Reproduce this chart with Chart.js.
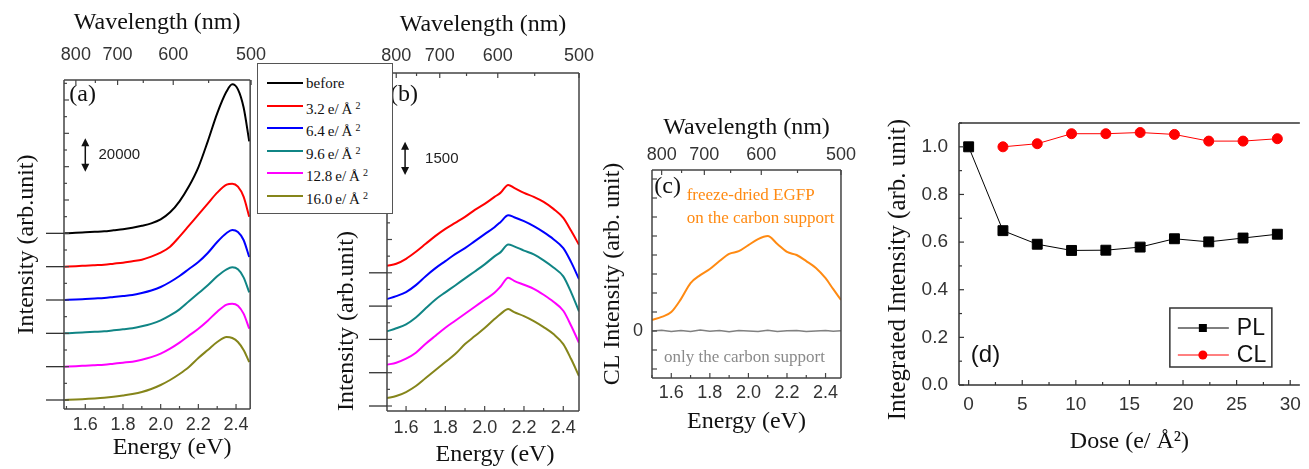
<!DOCTYPE html>
<html>
<head>
<meta charset="utf-8">
<script src="https://cdn.jsdelivr.net/npm/chart.js@4.4.1/dist/chart.umd.min.js"></script>
<style>
  body { margin: 0; background: #fff; width: 1309px; height: 469px; position: relative; overflow: hidden; }
  canvas { position: absolute; top: 0; }
  #legendA { position: absolute; left: 257px; top: 63px; width: 134px; height: 149px; border: 1.5px solid #555;
             background: #fff; font-family: 'Liberation Serif', serif; font-size: 15px; color: #111; }
  #legendA .row { position: absolute; left: 0; width: 134px; height: 22px; }
  #legendA .sw { position: absolute; left: 9px; top: 10px; width: 36px; height: 2px; }
  #legendA .lbl { position: absolute; left: 48px; top: 0; line-height: 22px; white-space: nowrap; }
  #legendA sup { font-size: 10px; vertical-align: 5px; margin-left: 3px; }
</style>
</head>
<body>
<canvas id="chartA" width="280" height="469" style="left:0px"></canvas>
<canvas id="chartB" width="290" height="469" style="left:320px"></canvas>
<canvas id="chartC" width="270" height="469" style="left:590px"></canvas>
<canvas id="chartD" width="459" height="469" style="left:850px"></canvas>
<div id="legendA"></div>
<script>
const SANS = "'Liberation Sans', Arial, sans-serif";
const SERIF = "'Liberation Serif', 'Times New Roman', serif";

// series names / colours shared by (a) and (b)
const seriesNames = ['before', '3.2', '6.4', '9.6', '12.8', '16.0'];
const seriesColors = ['#000000', '#ff0000', '#0000ff', '#108585', '#ff00ff', '#85851a'];

// tick labels
const energyLabels = [1.6, 1.8, 2.0, 2.2, 2.4];
const wavelengthTicks = [800, 750, 700, 650, 600, 550, 500];
const wavelengthLabels = [800, 700, 600, 500];

// (a) PL spectra, counts above each baseline
const energyA = [1.49, 1.55, 1.6, 1.65, 1.7, 1.75, 1.8, 1.85, 1.9, 1.95, 2.0, 2.05, 2.1, 2.15, 2.2, 2.25, 2.3, 2.35, 2.38, 2.41, 2.44, 2.47];
const plBefore = [0, 300, 600, 900, 1200, 1800, 2400, 3300, 4500, 6000, 8400, 12600, 19200, 28200, 39600, 55200, 72000, 85200, 89400, 86400, 75600, 55200];
const pl32 = [0, 300, 600, 900, 1200, 1800, 2400, 3300, 4200, 6000, 8400, 12000, 18000, 24600, 31200, 37800, 44400, 49200, 49800, 48000, 42000, 30000];
const pl64 = [0, 300, 600, 900, 1200, 1800, 2400, 3000, 4200, 5700, 7800, 10800, 14400, 18600, 22800, 28200, 34800, 40200, 42000, 40800, 36000, 25800];
const pl96 = [0, 300, 600, 900, 1200, 1800, 2400, 3000, 4200, 5700, 7800, 10800, 14400, 19200, 24000, 28800, 34200, 38400, 39600, 38400, 33600, 24600];
const pl128 = [0, 300, 600, 900, 1200, 1800, 2400, 3000, 4200, 5700, 7800, 10800, 14400, 18600, 22800, 27600, 33000, 37200, 37800, 36600, 31800, 22800];
const pl160 = [0, 300, 600, 900, 1300, 1900, 2700, 3600, 4800, 6600, 9000, 12000, 15600, 19800, 25200, 30000, 34800, 37800, 37200, 34800, 30000, 22800];
const offsetsA = [100000, 80000, 60000, 40000, 20000, 0];

// (b) CL spectra
const energyB = [1.503, 1.55, 1.6, 1.65, 1.7, 1.75, 1.8, 1.85, 1.9, 1.95, 2.0, 2.05, 2.08, 2.12, 2.15, 2.2, 2.25, 2.3, 2.35, 2.4, 2.44, 2.48];
const cl32 = [315, 405, 630, 945, 1305, 1665, 1980, 2250, 2520, 2835, 3105, 3420, 3600, 3960, 3825, 3600, 3420, 3195, 2880, 2475, 1890, 1260];
const cl64 = [315, 450, 630, 945, 1350, 1710, 2025, 2340, 2610, 2925, 3240, 3555, 3780, 4095, 4005, 3825, 3600, 3330, 3015, 2610, 1980, 1215];
const cl96 = [360, 500, 680, 990, 1400, 1800, 2120, 2430, 2750, 3060, 3380, 3740, 3920, 4280, 4190, 4000, 3830, 3560, 3240, 2840, 2120, 1260];
const cl128 = [360, 450, 630, 900, 1305, 1665, 2025, 2340, 2655, 2970, 3285, 3600, 3870, 4275, 4140, 3960, 3780, 3510, 3195, 2790, 2115, 1350];
const cl160 = [360, 450, 630, 900, 1260, 1620, 1980, 2340, 2790, 3150, 3510, 3915, 4140, 4365, 4230, 4050, 3825, 3555, 3240, 2790, 2115, 1350];
const offsetsB = [6000, 4500, 3000, 1500, 0];

// (c) freeze-dried EGFP vs bare carbon support
const energyC = [1.5, 1.55, 1.6, 1.65, 1.7, 1.75, 1.8, 1.85, 1.9, 1.95, 2.0, 2.05, 2.1, 2.15, 2.2, 2.25, 2.3, 2.35, 2.4, 2.44, 2.48];
const clEgfp = [290, 370, 500, 840, 1260, 1470, 1630, 1840, 2030, 2100, 2260, 2420, 2500, 2290, 2080, 2000, 1840, 1660, 1390, 1100, 815];
const clCarbon = [0, 20, -15, 10, -10, 25, -5, 15, -20, 10, 0, -10, 20, -15, 5, 15, -10, 0, 10, -5, 5];

// (d) integrated intensity vs dose
const doses = [0, 3.2, 6.4, 9.6, 12.8, 16.0, 19.2, 22.4, 25.6, 28.8];
const plIntegrated = [1.0, 0.648, 0.591, 0.565, 0.566, 0.579, 0.614, 0.601, 0.617, 0.633];
const clDoses = [3.2, 6.4, 9.6, 12.8, 16.0, 19.2, 22.4, 25.6, 28.8];
const clIntegrated = [1.0, 1.013, 1.055, 1.055, 1.06, 1.052, 1.024, 1.024, 1.034];

// ticks every `step` inside the axis range
const stepTicks = step => ax => {
  const out = [];
  for (let v = Math.ceil(ax.min / step - 1e-9) * step; v <= ax.max + 1e-9; v += step) {
    out.push({ value: +v.toFixed(6) });
  }
  ax.ticks = out;
};

// frame, inward ticks, baseline marks, arrows and labels
function decor(cfg) {
  return {
    id: 'decor',
    afterDraw(chart) {
      const { ctx, chartArea: a, scales } = chart;
      ctx.save();
      ctx.strokeStyle = cfg.frameColor || '#444';
      ctx.lineWidth = 1.5;
      const sides = cfg.sides || ['left', 'top', 'right', 'bottom'];
      ctx.beginPath();
      if (sides.includes('left')) { ctx.moveTo(a.left, a.top); ctx.lineTo(a.left, a.bottom); }
      if (sides.includes('right')) { ctx.moveTo(a.right, a.top); ctx.lineTo(a.right, a.bottom); }
      if (sides.includes('top')) { ctx.moveTo(a.left, a.top); ctx.lineTo(a.right, a.top); }
      if (sides.includes('bottom')) { ctx.moveTo(a.left, a.bottom); ctx.lineTo(a.right, a.bottom); }
      ctx.stroke();

      ctx.lineWidth = 1.2;
      Object.values(scales).forEach(sc => {
        const step = (cfg.majorStep || {})[sc.id];
        const pos = sc.options.position;
        sc.ticks.forEach(t => {
          const p = sc.getPixelForValue(t.value);
          const major = step ? Math.abs(t.value / step - Math.round(t.value / step)) < 1e-6 : !!t.label;
          const len = major ? 5 : 3;
          ctx.beginPath();
          if (pos === 'bottom') { ctx.moveTo(p, a.bottom); ctx.lineTo(p, a.bottom - len); }
          else if (pos === 'top') { ctx.moveTo(p, a.top); ctx.lineTo(p, a.top + len); }
          else if (pos === 'left') { ctx.moveTo(a.left, p); ctx.lineTo(a.left + len, p); }
          ctx.stroke();
        });
      });

      if (cfg.baselines) {
        ctx.strokeStyle = '#333';
        ctx.lineWidth = 1.3;
        cfg.baselines.forEach(v => {
          const y = scales.y.getPixelForValue(v);
          ctx.beginPath();
          ctx.moveTo(a.left - 18, y);
          ctx.lineTo(a.left, y);
          ctx.stroke();
        });
      }

      if (cfg.arrow) {
        const ar = cfg.arrow;
        const x = scales.x.getPixelForValue(ar.x);
        const y1 = scales.y.getPixelForValue(ar.from);
        const y2 = scales.y.getPixelForValue(ar.to);
        ctx.strokeStyle = '#111';
        ctx.fillStyle = '#111';
        ctx.lineWidth = 1.5;
        ctx.beginPath();
        ctx.moveTo(x, y1 - 5); ctx.lineTo(x, y2 + 5);
        ctx.stroke();
        ctx.beginPath();
        ctx.moveTo(x, y2); ctx.lineTo(x - 4, y2 + 8); ctx.lineTo(x + 4, y2 + 8); ctx.closePath();
        ctx.moveTo(x, y1); ctx.lineTo(x - 4, y1 - 8); ctx.lineTo(x + 4, y1 - 8); ctx.closePath();
        ctx.fill();
        ctx.font = '15px ' + SANS;
        ctx.textAlign = 'left';
        ctx.textBaseline = 'middle';
        ctx.fillStyle = '#222';
        ctx.fillText(ar.label, scales.x.getPixelForValue(ar.labelX), (y1 + y2) / 2);
      }

      (cfg.texts || []).forEach(t => {
        ctx.font = t.font;
        ctx.fillStyle = t.color;
        ctx.textAlign = 'left';
        ctx.textBaseline = 'middle';
        ctx.fillText(t.text, scales.x.getPixelForValue(t.x), scales.y.getPixelForValue(t.y));
      });

      if (cfg.legend) {
        const lx = a.right - 130, ly = a.bottom - 77, lw = 102, lh = 59;
        ctx.strokeStyle = '#333';
        ctx.lineWidth = 1.5;
        ctx.strokeRect(lx, ly, lw, lh);
        chart.data.datasets.forEach((ds, i) => {
          const y = ly + 20 + i * 27;
          ctx.strokeStyle = ds.borderColor;
          ctx.lineWidth = 1;
          ctx.beginPath(); ctx.moveTo(lx + 8, y); ctx.lineTo(lx + 59, y); ctx.stroke();
          ctx.fillStyle = ds.backgroundColor;
          ctx.beginPath();
          if (ds.pointStyle === 'rect') ctx.rect(lx + 29, y - 4, 8, 8);
          else ctx.arc(lx + 33, y, 4.5, 0, Math.PI * 2);
          ctx.fill();
          ctx.fillStyle = '#111';
          ctx.font = '23px ' + SANS;
          ctx.textAlign = 'left';
          ctx.textBaseline = 'middle';
          ctx.fillText(ds.label, lx + 67, y + 1);
        });
      }
      ctx.restore();
    }
  };
}

function spectralScales(o) {
  const tickFont = { family: SANS, size: 18 };
  const titleFont = { family: SERIF, size: 24 };
  return {
    x: {
      type: 'linear', position: 'bottom', min: o.xMin, max: o.xMax,
      grid: { display: false, drawTicks: false }, border: { display: false },
      afterBuildTicks: stepTicks(0.1),
      afterFit: ax => { ax.height = o.bottomH; },
      ticks: {
        autoSkip: false, maxRotation: 0, padding: o.xTickPad, color: '#333', font: tickFont,
        callback: v => energyLabels.some(e => Math.abs(e - v) < 1e-6) ? v.toFixed(1) : ''
      },
      title: { display: true, text: o.xTitle || 'Energy (eV)', color: '#111', font: titleFont, padding: { top: 0, bottom: o.xTitlePad } }
    },
    x2: {
      type: 'linear', position: 'top', min: o.xMin, max: o.xMax,
      grid: { display: false, drawTicks: false }, border: { display: false },
      afterBuildTicks: ax => { ax.ticks = wavelengthTicks.map(w => ({ value: 1240 / w })); },
      afterFit: ax => { ax.height = o.topH; },
      ticks: {
        autoSkip: false, maxRotation: 0, padding: o.topTickPad, color: '#333', font: tickFont,
        callback: v => { const w = Math.round(1240 / v); return wavelengthLabels.includes(w) ? String(w) : ''; }
      },
      title: { display: true, text: 'Wavelength (nm)', color: '#111', font: titleFont, padding: { top: o.topTitlePad, bottom: 0 } }
    },
    y: {
      type: 'linear', position: 'left', min: o.yMin, max: o.yMax,
      grid: { display: false, drawTicks: false }, border: { display: false },
      afterBuildTicks: stepTicks(o.yStep),
      afterFit: ax => { ax.width = o.leftW; },
      ticks: { autoSkip: false, padding: 9, color: '#333', font: tickFont, callback: o.yLabel || (() => '') },
      title: { display: true, text: o.yTitle, color: '#111', font: titleFont, align: o.yAlign || 'center', padding: { top: o.yTitlePad, bottom: 0 } }
    }
  };
}

function lineSet(xs, ys, offset, color, label) {
  return {
    label: label,
    data: ys.map((v, k) => ({ x: xs[k], y: v + offset })),
    borderColor: color, borderWidth: 2, pointRadius: 0,
    cubicInterpolationMode: 'monotone'
  };
}

const base = {
  responsive: false, animation: false, devicePixelRatio: 1,
  plugins: { legend: { display: false }, tooltip: { enabled: false } }
};

// (a)
const spectraA = [plBefore, pl32, pl64, pl96, pl128, pl160];
new Chart(document.getElementById('chartA'), {
  type: 'line',
  data: { datasets: spectraA.map((s, i) => lineSet(energyA, s, offsetsA[i], seriesColors[i], seriesNames[i])) },
  options: {
    ...base,
    layout: { padding: { left: 0, top: 0, right: 26, bottom: 0 } },
    scales: spectralScales({
      xMin: 1.487, xMax: 2.475, yMin: -5400, yMax: 192000, yStep: 10000,
      leftW: 64, topH: 80, bottomH: 60,
      xTickPad: 5, topTickPad: 14, xTitlePad: 7, topTitlePad: 8,
      xTitle: '     Energy (eV)',
      yTitle: 'Intensity (arb.unit)', yTitlePad: 12
    })
  },
  plugins: [decor({
    majorStep: { y: 20000 },
    baselines: offsetsA,
    arrow: { x: 1.6, from: 137000, to: 157000, label: '20000', labelX: 1.67 },
    texts: [{ text: '(a)', x: 1.515, y: 183000, font: '24px ' + SERIF, color: '#111' }]
  })]
});

// (b)
const spectraB = [cl32, cl64, cl96, cl128, cl160];
new Chart(document.getElementById('chartB'), {
  type: 'line',
  data: { datasets: spectraB.map((s, i) => lineSet(energyB, s, offsetsB[i], seriesColors[i + 1], seriesNames[i + 1])) },
  options: {
    ...base,
    layout: { padding: { left: 0, top: 0, right: 31, bottom: 0 } },
    scales: spectralScales({
      xMin: 1.503, xMax: 2.48, yMin: -225, yMax: 15000, yStep: 750,
      leftW: 67, topH: 73, bottomH: 58,
      xTickPad: 6, topTickPad: 6, xTitlePad: 0, topTitlePad: 10,
      xTitle: '    Energy (eV)',
      yTitle: 'Intensity (arb.unit)', yTitlePad: 12, yAlign: 'start'
    })
  },
  plugins: [decor({
    majorStep: { y: 1500 },
    baselines: offsetsB,
    arrow: { x: 1.595, from: 10400, to: 11900, label: '1500', labelX: 1.697 },
    texts: [{ text: '(b)', x: 1.518, y: 14000, font: '24px ' + SERIF, color: '#111' }]
  })]
});

// (c)
new Chart(document.getElementById('chartC'), {
  type: 'line',
  data: {
    datasets: [
      lineSet(energyC, clEgfp, 0, '#ff8a12', 'freeze-dried EGFP on the carbon support'),
      { ...lineSet(energyC, clCarbon, 0, '#808080', 'only the carbon support'), borderWidth: 1.5, cubicInterpolationMode: 'default', tension: 0 }
    ]
  },
  options: {
    ...base,
    layout: { padding: { left: 0, top: 0, right: 17, bottom: 0 } },
    scales: spectralScales({
      xMin: 1.5, xMax: 2.48, yMin: -1237, yMax: 4237, yStep: 500,
      leftW: 62, topH: 170, bottomH: 91,
      xTickPad: 4, topTickPad: 4, xTitlePad: 33, topTitlePad: 113,
      yTitle: 'CL Intensity (arb. unit)', yTitlePad: 8,
      yLabel: v => (Math.abs(v) < 1e-6 ? '0' : '')
    })
  },
  plugins: [decor({
    majorStep: { y: 500 },
    texts: [
      { text: '(c)', x: 1.512, y: 3790, font: '24px ' + SERIF, color: '#111' },
      { text: 'freeze-dried EGFP', x: 1.68, y: 3560, font: '17px ' + SERIF, color: '#ff8a12' },
      { text: 'on the carbon support', x: 1.68, y: 2960, font: '17px ' + SERIF, color: '#ff8a12' },
      { text: 'only the carbon support', x: 1.562, y: -690, font: '17px ' + SERIF, color: '#8a8a8a' }
    ]
  })]
});

// (d)
new Chart(document.getElementById('chartD'), {
  type: 'line',
  data: {
    datasets: [
      {
        label: 'PL', data: doses.map((d, i) => ({ x: d, y: plIntegrated[i] })),
        borderColor: '#000', backgroundColor: '#000', borderWidth: 1,
        pointStyle: 'rect', pointRadius: 7, tension: 0
      },
      {
        label: 'CL', data: clDoses.map((d, i) => ({ x: d, y: clIntegrated[i] })),
        borderColor: '#ff0000', backgroundColor: '#ff0000', borderWidth: 1,
        pointStyle: 'circle', pointRadius: 5, tension: 0
      }
    ]
  },
  options: {
    ...base,
    layout: { padding: { left: 0, top: 123, right: 0, bottom: 0 } },
    scales: {
      x: {
        type: 'linear', position: 'bottom', min: -0.9, max: 30.9,
        grid: { display: false, drawTicks: false }, border: { display: false },
        afterBuildTicks: stepTicks(2.5),
        afterFit: ax => { ax.height = 84; },
        ticks: {
          autoSkip: false, maxRotation: 0, padding: 8, color: '#333', font: { family: SANS, size: 19 },
          callback: v => (Math.abs(v % 5) < 1e-6 ? String(v) : '')
        },
        title: { display: true, text: 'Dose (e/ Å²)', color: '#111', font: { family: SERIF, size: 24 }, padding: { top: 0, bottom: 13 } }
      },
      y: {
        type: 'linear', position: 'left', min: 0, max: 1.1,
        grid: { display: false, drawTicks: false }, border: { display: false },
        afterBuildTicks: stepTicks(0.1),
        afterFit: ax => { ax.width = 109; },
        ticks: {
          autoSkip: false, padding: 11, color: '#333', font: { family: SANS, size: 19 },
          callback: v => (Math.round(v * 10) % 2 === 0 ? v.toFixed(1) : '')
        },
        title: { display: true, text: 'Integrated Intensity (arb. unit)     ', color: '#111', font: { family: SERIF, size: 25 }, padding: { top: 33, bottom: 0 } }
      }
    }
  },
  plugins: [decor({
    frameColor: '#333',
    sides: ['left', 'top', 'bottom'],
    majorStep: { x: 5, y: 0.2 },
    legend: true,
    texts: [{ text: '(d)', x: 0.2, y: 0.126, font: '24px ' + SANS, color: '#111' }]
  })]
});

// legend box between (a) and (b)
const legendA = document.getElementById('legendA');
seriesNames.forEach((name, i) => {
  const row = document.createElement('div');
  row.className = 'row';
  row.style.top = (8 + i * 22.6) + 'px';
  const text = i === 0 ? name : name + '&thinsp;e/&thinsp;Å<sup>2</sup>';
  row.innerHTML = '<div class="sw" style="background:' + seriesColors[i] + '"></div><div class="lbl">' + text + '</div>';
  legendA.appendChild(row);
});
</script>
</body>
</html>
